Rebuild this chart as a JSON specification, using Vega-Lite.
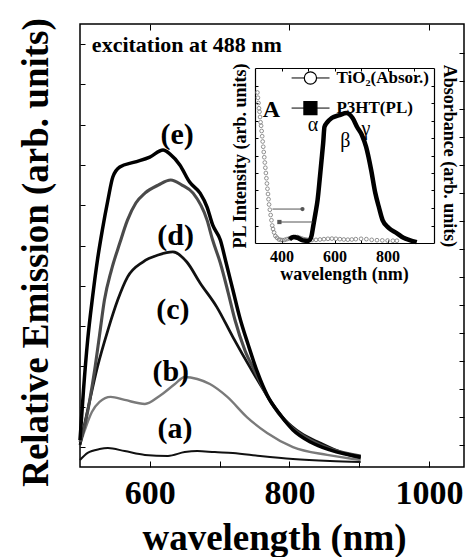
{
"$schema":"https://vega.github.io/schema/vega-lite/v6.json",
"width":384,"height":443,"autosize":"none",
"padding":{"left":80,"top":24,"right":3,"bottom":90},
"config":{"view":{"stroke":"black","strokeWidth":1.5},"font":"Liberation Serif",
 "axis":{"domainColor":"black","domainWidth":1.2,"tickColor":"black","tickWidth":1,"grid":false,"labelColor":"black","titleColor":"black","labelFont":"Liberation Serif","titleFont":"Liberation Serif","labelFontWeight":"bold","titleFontWeight":"bold"}},
"datasets":{
"main":[
{"s":"a","wl":500,"val":0.35},{"s":"a","wl":511,"val":0.70},{"s":"a","wl":528,"val":0.89},{"s":"a","wl":540,"val":0.94},{"s":"a","wl":564,"val":0.79},{"s":"a","wl":593,"val":0.60},{"s":"a","wl":626,"val":0.55},{"s":"a","wl":650,"val":0.74},{"s":"a","wl":668,"val":0.79},{"s":"a","wl":693,"val":0.74},{"s":"a","wl":719,"val":0.70},{"s":"a","wl":758,"val":0.55},{"s":"a","wl":805,"val":0.40},{"s":"a","wl":858,"val":0.30},{"s":"a","wl":902,"val":0.25},
{"s":"b","wl":500,"val":1.1},{"s":"b","wl":507,"val":1.84},{"s":"b","wl":517,"val":2.73},{"s":"b","wl":528,"val":3.23},{"s":"b","wl":544,"val":3.48},{"s":"b","wl":564,"val":3.33},{"s":"b","wl":593,"val":3.13},{"s":"b","wl":614,"val":3.53},{"s":"b","wl":636,"val":4.12},{"s":"b","wl":650,"val":4.47},{"s":"b","wl":668,"val":4.37},{"s":"b","wl":686,"val":4.12},{"s":"b","wl":711,"val":3.48},{"s":"b","wl":739,"val":2.48},{"s":"b","wl":768,"val":1.69},{"s":"b","wl":805,"val":0.99},{"s":"b","wl":854,"val":0.60},{"s":"b","wl":902,"val":0.35},
{"s":"c","wl":500,"val":1.09},{"s":"c","wl":511,"val":2.83},{"s":"c","wl":525,"val":4.97},{"s":"c","wl":540,"val":6.80},{"s":"c","wl":554,"val":8.29},{"s":"c","wl":568,"val":9.43},{"s":"c","wl":590,"val":10.18},{"s":"c","wl":612,"val":10.53},{"s":"c","wl":633,"val":10.68},{"s":"c","wl":653,"val":10.18},{"s":"c","wl":672,"val":9.14},{"s":"c","wl":696,"val":7.94},{"s":"c","wl":719,"val":6.45},{"s":"c","wl":744,"val":4.92},{"s":"c","wl":772,"val":3.33},{"s":"c","wl":794,"val":2.33},{"s":"c","wl":816,"val":1.69},{"s":"c","wl":844,"val":1.19},{"s":"c","wl":873,"val":0.74},{"s":"c","wl":902,"val":0.45},
{"s":"d","wl":500,"val":1.24},{"s":"d","wl":507,"val":2.09},{"s":"d","wl":514,"val":3.33},{"s":"d","wl":521,"val":4.82},{"s":"d","wl":528,"val":6.55},{"s":"d","wl":535,"val":8.29},{"s":"d","wl":545,"val":9.78},{"s":"d","wl":557,"val":11.12},{"s":"d","wl":568,"val":12.26},{"s":"d","wl":580,"val":13.11},{"s":"d","wl":593,"val":13.60},{"s":"d","wl":612,"val":14.0},{"s":"d","wl":630,"val":14.25},{"s":"d","wl":646,"val":14.0},{"s":"d","wl":662,"val":13.6},{"s":"d","wl":682,"val":12.26},{"s":"d","wl":690,"val":11.27},{"s":"d","wl":701,"val":10.13},{"s":"d","wl":712,"val":8.69},{"s":"d","wl":722,"val":7.30},{"s":"d","wl":736,"val":5.81},{"s":"d","wl":751,"val":4.72},{"s":"d","wl":765,"val":3.72},{"s":"d","wl":784,"val":2.68},{"s":"d","wl":804,"val":1.94},{"s":"d","wl":830,"val":1.34},{"s":"d","wl":859,"val":0.89},{"s":"d","wl":902,"val":0.55},
{"s":"e","wl":500,"val":1.34},{"s":"e","wl":505,"val":3.82},{"s":"e","wl":511,"val":6.31},{"s":"e","wl":518,"val":8.44},{"s":"e","wl":525,"val":10.28},{"s":"e","wl":532,"val":11.77},{"s":"e","wl":540,"val":13.26},{"s":"e","wl":547,"val":14.40},{"s":"e","wl":557,"val":14.90},{"s":"e","wl":578,"val":15.14},{"s":"e","wl":600,"val":15.39},{"s":"e","wl":619,"val":15.74},{"s":"e","wl":629,"val":15.54},{"s":"e","wl":643,"val":15.0},{"s":"e","wl":657,"val":14.15},{"s":"e","wl":672,"val":13.6},{"s":"e","wl":682,"val":12.91},{"s":"e","wl":690,"val":12.02},{"s":"e","wl":701,"val":11.27},{"s":"e","wl":709,"val":10.18},{"s":"e","wl":719,"val":8.79},{"s":"e","wl":729,"val":7.40},{"s":"e","wl":741,"val":6.06},{"s":"e","wl":754,"val":4.72},{"s":"e","wl":768,"val":3.57},{"s":"e","wl":787,"val":2.58},{"s":"e","wl":805,"val":1.84},{"s":"e","wl":830,"val":1.24},{"s":"e","wl":859,"val":0.84},{"s":"e","wl":902,"val":0.50}
],
"mainLabels":[{"wl":639,"val":16.48,"label":"(e)"},{"wl":637,"val":11.47,"label":"(d)"},{"wl":633,"val":7.80,"label":"(c)"},{"wl":630,"val":4.72,"label":"(b)"},{"wl":636,"val":1.89,"label":"(a)"}],
"note":[{"wl":517,"val":20.95,"label":"excitation at 488 nm"}],
"tio2":[{"wl":309,"val":0.86},{"wl":311,"val":0.83},{"wl":313,"val":0.80},{"wl":315,"val":0.77},{"wl":317,"val":0.75},{"wl":319,"val":0.72},{"wl":321,"val":0.69},{"wl":323,"val":0.67},{"wl":325,"val":0.64},{"wl":327,"val":0.61},{"wl":329,"val":0.58},{"wl":331,"val":0.55},{"wl":333,"val":0.52},{"wl":335,"val":0.49},{"wl":337,"val":0.46},{"wl":339,"val":0.43},{"wl":341,"val":0.40},{"wl":343,"val":0.37},{"wl":345,"val":0.34},{"wl":347,"val":0.31},{"wl":349,"val":0.28},{"wl":351,"val":0.25},{"wl":353,"val":0.22},{"wl":356,"val":0.19},{"wl":359,"val":0.16},{"wl":362,"val":0.13},{"wl":365,"val":0.10},{"wl":368,"val":0.08},{"wl":372,"val":0.06},{"wl":377,"val":0.04},{"wl":383,"val":0.03},{"wl":390,"val":0.02},{"wl":397,"val":0.018},{"wl":404,"val":0.016},{"wl":412,"val":0.018},{"wl":420,"val":0.022},{"wl":428,"val":0.026},{"wl":436,"val":0.03},{"wl":444,"val":0.033},{"wl":452,"val":0.035},{"wl":460,"val":0.034},{"wl":468,"val":0.03},{"wl":476,"val":0.026},{"wl":484,"val":0.022},{"wl":492,"val":0.02},{"wl":500,"val":0.018},{"wl":515,"val":0.017},{"wl":530,"val":0.018},{"wl":545,"val":0.02},{"wl":560,"val":0.022},{"wl":575,"val":0.024},{"wl":590,"val":0.025},{"wl":605,"val":0.024},{"wl":620,"val":0.022},{"wl":635,"val":0.02},{"wl":650,"val":0.019},{"wl":665,"val":0.02},{"wl":680,"val":0.022},{"wl":700,"val":0.024},{"wl":720,"val":0.022},{"wl":740,"val":0.018},{"wl":760,"val":0.016},{"wl":780,"val":0.015},{"wl":800,"val":0.014},{"wl":820,"val":0.013},{"wl":835,"val":0.013}],
"pl":[{"wl":430,"val":0.02},{"wl":445,"val":0.035},{"wl":460,"val":0.03},{"wl":480,"val":0.015},{"wl":500,"val":0.012},{"wl":508,"val":0.02},{"wl":513,"val":0.04},{"wl":520,"val":0.1},{"wl":528,"val":0.17},{"wl":536,"val":0.246},{"wl":545,"val":0.38},{"wl":551,"val":0.474},{"wl":557,"val":0.57},{"wl":562,"val":0.663},{"wl":573,"val":0.691},{"wl":589,"val":0.714},{"wl":619,"val":0.731},{"wl":645,"val":0.743},{"wl":668,"val":0.714},{"wl":685,"val":0.663},{"wl":703,"val":0.617},{"wl":719,"val":0.549},{"wl":738,"val":0.417},{"wl":753,"val":0.29},{"wl":768,"val":0.2},{"wl":781,"val":0.131},{"wl":805,"val":0.085},{"wl":834,"val":0.057},{"wl":860,"val":0.03},{"wl":883,"val":0.017},{"wl":910,"val":0.005}],
"legendRows":[{"wl":438,"wl2":581,"ws":509,"wt":607,"val":0.943,"sym":"TiO2","label":"TiO₂(Absor.)"},{"wl":438,"wl2":581,"ws":509,"wt":607,"val":0.771,"sym":"P3HT","label":"P3HT(PL)"}],
"letterA":[{"wl":362,"val":0.76,"label":"A"}],
"greek":[{"wl":519,"val":0.672,"label":"α"},{"wl":641,"val":0.583,"label":"β"},{"wl":718,"val":0.65,"label":"γ"}],
"arrows":[{"wl":366,"wl2":479,"val":0.194,"head":479,"dir":"right"},{"wl":392,"wl2":517,"val":0.12,"head":392,"dir":"left"}]
},
"layer":[
{"layer":[
 {"data":{"name":"main"},"mark":{"type":"line","interpolate":"monotone"},
  "encoding":{
   "x":{"field":"wl","type":"quantitative","scale":{"domain":[500,1050],"nice":false,"zero":false},
     "axis":{"orient":"bottom","values":[600,700,800,900,1000],"format":"d","labelExpr":"datum.value % 200 == 0 ? datum.label : ''","labelFontSize":34,"labelBaseline":"alphabetic","labelPadding":42,"labelFlush":false,"labelOverlap":false,"labelBound":false,"tickSize":-6,"domain":false,"title":"wavelength (nm)","titleFontSize":37,"titleX":194,"titleY":82,"titleAlign":"center","titleBaseline":"alphabetic"}},
   "y":{"field":"val","type":"quantitative","scale":{"domain":[0,22],"nice":false,"zero":false},
     "axis":{"orient":"left","values":[1,2,3,4,5,6,7,8,9,10,11,12,13,14,15,16,17,18,19,20,21],"labels":false,"tickSize":-5,"domain":false,"title":"Relative Emission (arb. units)","titleFontSize":37,"titleAngle":-90,"titleX":-44,"titleY":228,"titleAlign":"center","titleBaseline":"middle"}},
   "detail":{"field":"s"},
   "color":{"field":"s","type":"nominal","scale":{"domain":["a","b","c","d","e"],"range":["#111111","#7a7a7a","#111111","#4a4a4a","#000000"]},"legend":null},
   "strokeWidth":{"field":"s","type":"ordinal","scale":{"domain":["a","b","c","d","e"],"range":[2,3.5,5,2.8,4.5]},"legend":null}}},
 {"data":{"name":"mainLabels"},"mark":{"type":"text","font":"Liberation Serif","fontWeight":"bold","fontSize":30,"align":"center","baseline":"middle","color":"black"},
  "encoding":{"x":{"field":"wl","type":"quantitative"},"y":{"field":"val","type":"quantitative"},"text":{"field":"label"}}}
]},
{"data":{"name":"note"},"mark":{"type":"text","font":"Liberation Serif","fontWeight":"bold","fontSize":22,"align":"left","baseline":"middle","color":"black"},
 "encoding":{
  "x":{"field":"wl","type":"quantitative","scale":{"domain":[500,1050],"nice":false,"zero":false},"axis":{"orient":"top","values":[600,800,1000],"labels":false,"tickSize":-6,"domain":false,"title":null}},
  "y":{"field":"val","type":"quantitative","scale":{"domain":[0,22],"nice":false,"zero":false},"axis":{"orient":"right","values":[1.09,2.48,3.87,5.26,6.65,8.04,9.43,10.82,12.21,13.6,14.99,16.38,17.77,19.16,20.55],"labels":false,"tickSize":-5,"domain":false,"title":null}},
  "text":{"field":"label"}}},
{"layer":[
 {"data":{"name":"tio2"},"mark":{"type":"point","shape":"circle","filled":false,"stroke":"#777777","strokeWidth":0.8,"size":14,"opacity":1},
  "encoding":{
   "x":{"field":"wl","type":"quantitative","scale":{"domain":[300,975],"range":[175,354],"nice":false,"zero":false},
     "axis":{"orient":"bottom","offset":-224,"values":[400,500,600,700,800,900],"format":"d","labelExpr":"(datum.value == 400 || datum.value == 600 || datum.value == 800) ? datum.label : ''","labelFontSize":16,"labelBaseline":"alphabetic","labelPadding":21,"labelFlush":false,"labelOverlap":false,"labelBound":false,"tickSize":-3,"domain":true,"title":"wavelength (nm)","titleFontSize":18,"titleX":264,"titleY":36,"titleAlign":"center","titleBaseline":"alphabetic"}},
   "y":{"field":"val","type":"quantitative","scale":{"domain":[0,1],"range":[219,44],"nice":false,"zero":false},
     "axis":{"orient":"left","offset":-175,"values":[0.1,0.2,0.3,0.4,0.5,0.6,0.7,0.8,0.9],"labels":false,"tickSize":-3,"domain":true,"title":"PL Intensity (arb. units)","titleFontSize":18,"titleAngle":-90,"titleX":-15,"titleY":131.5,"titleAlign":"center","titleBaseline":"middle"}}}},
 {"data":{"name":"pl"},"mark":{"type":"line","color":"black","strokeWidth":4.5,"interpolate":"monotone"},
  "encoding":{"x":{"field":"wl","type":"quantitative"},"y":{"field":"val","type":"quantitative"}}}
]},
{"layer":[
 {"data":{"name":"legendRows"},"mark":{"type":"rule","color":"black","strokeWidth":1},
  "encoding":{
   "x":{"field":"wl","type":"quantitative","scale":{"domain":[300,975],"range":[175,354],"nice":false,"zero":false},"axis":{"orient":"top","offset":-44,"values":[400,500,600,700,800,900],"labels":false,"tickSize":-3,"domain":true,"title":null}},
   "x2":{"field":"wl2"},
   "y":{"field":"val","type":"quantitative","scale":{"domain":[0,1],"range":[219,44],"nice":false,"zero":false},"axis":{"orient":"right","offset":-30,"values":[0.1,0.2,0.3,0.4,0.5,0.6,0.7,0.8,0.9],"labels":false,"tickSize":-3,"domain":true,"title":"Absorbance (arb. units)","titleFontSize":18,"titleAngle":90,"titleX":14,"titleY":131.5,"titleAlign":"center","titleBaseline":"middle"}}}},
 {"data":{"name":"legendRows"},"mark":{"type":"point","stroke":"black","strokeWidth":1.2,"opacity":1},
  "encoding":{"x":{"field":"ws","type":"quantitative"},"y":{"field":"val","type":"quantitative"},
   "shape":{"field":"sym","type":"nominal","scale":{"domain":["TiO2","P3HT"],"range":["circle","square"]},"legend":null},
   "fill":{"field":"sym","type":"nominal","scale":{"domain":["TiO2","P3HT"],"range":["white","black"]},"legend":null},
   "size":{"field":"sym","type":"nominal","scale":{"domain":["TiO2","P3HT"],"range":[150,170]},"legend":null}}},
 {"data":{"name":"legendRows"},"mark":{"type":"text","font":"Liberation Serif","fontWeight":"bold","fontSize":17,"align":"left","baseline":"middle","color":"black"},
  "encoding":{"x":{"field":"wt","type":"quantitative"},"y":{"field":"val","type":"quantitative"},"text":{"field":"label"}}},
 {"data":{"name":"letterA"},"mark":{"type":"text","font":"Liberation Serif","fontWeight":"bold","fontSize":24,"align":"center","baseline":"middle","color":"black"},
  "encoding":{"x":{"field":"wl","type":"quantitative"},"y":{"field":"val","type":"quantitative"},"text":{"field":"label"}}},
 {"data":{"name":"greek"},"mark":{"type":"text","font":"Liberation Serif","fontSize":20,"align":"center","baseline":"middle","color":"black"},
  "encoding":{"x":{"field":"wl","type":"quantitative"},"y":{"field":"val","type":"quantitative"},"text":{"field":"label"}}},
 {"data":{"name":"arrows"},"mark":{"type":"rule","color":"#555555","strokeWidth":1},
  "encoding":{"x":{"field":"wl","type":"quantitative"},"x2":{"field":"wl2"},"y":{"field":"val","type":"quantitative"}}},
 {"data":{"name":"arrows"},"mark":{"type":"point","filled":true,"color":"#555555","size":18,"opacity":1},
  "encoding":{"x":{"field":"head","type":"quantitative"},"y":{"field":"val","type":"quantitative"},
   "shape":{"field":"dir","type":"nominal","scale":{"domain":["right","left"],"range":["triangle-right","triangle-left"]},"legend":null}}}
]}
],
"resolve":{"scale":{"x":"independent","y":"independent"}}
}
